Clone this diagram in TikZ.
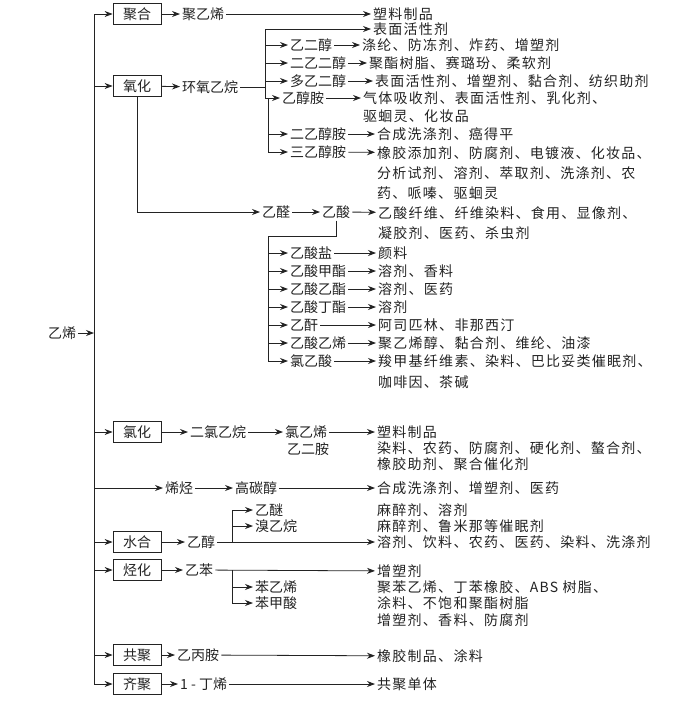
\documentclass[tikz,border=0pt]{standalone}
\usepackage{fontspec}
\usepackage{tikz}
\usetikzlibrary{arrows.meta, positioning, calc}
\newfontfamily\cjk{Noto Sans CJK SC}
\newfontfamily\cjkancho[LetterSpace=9]{Noto Sans CJK SC}
\definecolor{trazo}{RGB}{35,35,35}
\tikzset{
  proceso/.style={rectangle, draw=trazo, line width=0.8pt, minimum width=48pt,
                  minimum height=21pt, inner sep=0pt, text=trazo,
                  font=\cjk\fontsize{14}{16}\selectfont},
  producto/.style={anchor=west, inner sep=2pt, text=trazo,
                   font=\cjk\fontsize{14}{16}\selectfont},
  uso/.style={anchor=west, inner sep=2pt, text=trazo,
              font=\cjkancho\fontsize{14}{16}\selectfont},
  flecha/.style={-{Stealth[length=8pt, width=6pt]}, line width=0.8pt, trazo},
  linea/.style={line width=0.8pt, trazo}
}
\begin{document}
\begin{tikzpicture}[x=1pt, y=-1pt]
    \useasboundingbox (0,0) rectangle (685,702);
    % tronco
    \node[producto] (etileno) at (46,333) {乙烯};
    \coordinate (tronco) at (94,333);
    \draw[flecha] (etileno) -- (tronco);
    \node[proceso] (b-jh) at (137,14)  {聚合};
    \node[proceso] (b-yh) at (137,86)  {氧化};
    \node[proceso] (b-lh) at (137,432) {氯化};
    \node[proceso] (b-sh) at (137,542) {水合};
    \node[proceso] (b-th) at (137,570) {烃化};
    \node[proceso] (b-gj) at (137,655) {共聚};
    \node[proceso] (b-qj) at (137,684) {齐聚};
    \node[producto] (olef) at (163,488) {烯烃};
    \foreach \rama in {b-jh, b-yh, b-lh, olef, b-sh, b-th, b-gj, b-qj}
      \draw[flecha] (tronco) |- (\rama);

    % polimerizacion
    \node[producto] (pe) at (180,14) {聚乙烯};
    \node[uso] (o-pe) at (371,14) {塑料制品};
    \draw[flecha] (b-jh) -- (pe);
    \draw[flecha] (pe) -- (o-pe);

    % oxidacion: oxido de etileno
    \node[producto] (eo)  at (180,87) {环氧乙烷};
    \coordinate (c-eo) at (265,87);
    \draw[flecha] (b-yh) -- (eo);
    \draw[linea] (eo) -- (c-eo);
    \node[uso] (bmhx) at (371,29) {表面活性剂};
    \node[producto] (eg)  at (288,45) {乙二醇};
    \node[producto] (deg) at (288,63) {二乙二醇};
    \node[producto] (peg) at (288,81) {多乙二醇};
    \node[producto] (mea) at (280,98) {乙醇胺};
    \foreach \hijo in {bmhx, eg, deg, peg, mea}
      \draw[flecha] (c-eo) |- (\hijo);
    \coordinate (c-mea) at (268,98);
    \node[producto] (dea) at (288,134) {二乙醇胺};
    \node[producto] (tea) at (288,152) {三乙醇胺};
    \draw[flecha] (c-mea) |- (dea);
    \draw[flecha] (c-mea) |- (tea);
    \node[uso] (o-eg)   at (360,45)  {涤纶、防冻剂、炸药、增塑剂};
    \node[uso] (o-deg)  at (367,63)  {聚酯树脂、赛璐玢、柔软剂};
    \node[uso] (o-peg)  at (373,81)  {表面活性剂、增塑剂、黏合剂、纺织助剂};
    \node[uso] (o-mea)  at (361,98)  {气体吸收剂、表面活性剂、乳化剂、};
    \node[uso] (o-mea2) at (361,116) {驱蛔灵、化妆品};
    \node[uso] (o-dea)  at (375,134) {合成洗涤剂、癌得平};
    \node[uso] (o-tea)  at (375,153) {橡胶添加剂、防腐剂、电镀液、化妆品、};
    \node[uso] (o-tea2) at (375,173) {分析试剂、溶剂、萃取剂、洗涤剂、农};
    \node[uso] (o-tea3) at (375,193) {药、哌嗪、驱蛔灵};
    \draw[flecha] (eg)  -- (o-eg);
    \draw[flecha] (deg) -- (o-deg);
    \draw[flecha] (peg) -- (o-peg);
    \draw[flecha] (mea) -- (o-mea);
    \draw[flecha] (dea) -- (o-dea);
    \draw[flecha] (tea) -- (o-tea);

    % oxidacion: acetaldehido y acido acetico
    \node[producto] (ald) at (260,212) {乙醛};
    \node[producto] (aa)  at (320,212) {乙酸};
    \node[uso] (o-aa)  at (376,213) {乙酸纤维、纤维染料、食用、显像剂、};
    \node[uso] (o-aa2) at (376,233) {凝胶剂、医药、杀虫剂};
    \draw[flecha] (b-yh.south) |- (ald);
    \draw[flecha] (ald) -- (aa);
    \draw[flecha] (aa) -- (o-aa);
    \coordinate (c-aa) at (268,236);
    \draw[linea] (aa.south) |- (c-aa);
    \node[producto] (ac-salt) at (288,253) {乙酸盐};
    \node[producto] (ac-me)   at (288,271) {乙酸甲酯};
    \node[producto] (ac-et)   at (288,289) {乙酸乙酯};
    \node[producto] (ac-bu)   at (288,307) {乙酸丁酯};
    \node[producto] (ac-anh)  at (288,325) {乙酐};
    \node[producto] (ac-vin)  at (288,343) {乙酸乙烯};
    \node[producto] (ac-cl)   at (288,361) {氯乙酸};
    \node[uso] (o-salt) at (376,253) {颜料};
    \node[uso] (o-me)   at (376,271) {溶剂、香料};
    \node[uso] (o-et)   at (376,289) {溶剂、医药};
    \node[uso] (o-bu)   at (376,307) {溶剂};
    \node[uso] (o-anh)  at (376,325) {阿司匹林、非那西汀};
    \node[uso] (o-vin)  at (376,343) {聚乙烯醇、黏合剂、维纶、油漆};
    \node[uso] (o-cl)   at (376,361) {羧甲基纤维素、染料、巴比妥类催眠剂、};
    \node[uso] (o-cl2)  at (376,382) {咖啡因、茶碱};
    \foreach \der/\fin in {ac-salt/o-salt, ac-me/o-me, ac-et/o-et, ac-bu/o-bu,
                           ac-anh/o-anh, ac-vin/o-vin, ac-cl/o-cl} {
      \draw[flecha] (c-aa) |- (\der);
      \draw[flecha] (\der) -- (\fin);
    }

    % cloracion
    \node[producto] (edc) at (188,432) {二氯乙烷};
    \node[producto] (vcm) at (283,432) {氯乙烯};
    \node[producto] (eda) at (285,449) {乙二胺};
    \node[uso] (o-vcm)  at (375,432) {塑料制品};
    \node[uso] (o-eda)  at (375,448) {染料、农药、防腐剂、硬化剂、螯合剂、};
    \node[uso] (o-eda2) at (375,464) {橡胶助剂、聚合催化剂};
    \draw[flecha] (b-lh) -- (edc);
    \draw[flecha] (edc) -- (vcm);
    \draw[flecha] (vcm) -- (o-vcm);

    % olefinas
    \node[producto] (hoh) at (233,488) {高碳醇};
    \node[uso] (o-hoh) at (375,488) {合成洗涤剂、增塑剂、医药};
    \draw[flecha] (olef) -- (hoh);
    \draw[flecha] (hoh) -- (o-hoh);

    % hidratacion
    \node[producto] (etoh)  at (185,542) {乙醇};
    \node[producto] (ether) at (253,510) {乙醚};
    \node[producto] (ebr)   at (253,526) {溴乙烷};
    \node[uso] (o-ether) at (375,510) {麻醉剂、溶剂};
    \node[uso] (o-ebr)   at (375,526) {麻醉剂、鲁米那等催眠剂};
    \node[uso] (o-etoh)  at (375,542) {溶剂、饮料、农药、医药、染料、洗涤剂};
    \coordinate (c-etoh) at (232,542);
    \draw[flecha] (b-sh) -- (etoh);
    \draw[flecha] (etoh) -- (o-etoh);
    \draw[flecha] (c-etoh) |- (ether);
    \draw[flecha] (c-etoh) |- (ebr);

    % alquilacion
    \node[producto] (eb)  at (183,570) {乙苯};
    \node[producto] (sty) at (253,587) {苯乙烯};
    \node[producto] (bza) at (253,603) {苯甲酸};
    \node[uso] (o-eb)   at (375,571) {增塑剂};
    \node[uso] (o-sty)  at (375,587) {聚苯乙烯、丁苯橡胶、ABS 树脂、};
    \node[uso] (o-bza)  at (375,603) {涂料、不饱和聚酯树脂};
    \node[uso] (o-bza2) at (375,620) {增塑剂、香料、防腐剂};
    \coordinate (c-eb) at (232,570);
    \draw[flecha] (b-th) -- (eb);
    \draw[flecha] (eb) -- (o-eb);
    \draw[flecha] (c-eb) |- (sty);
    \draw[flecha] (c-eb) |- (bza);

    % copolimerizacion y oligomerizacion
    \node[producto] (epr) at (175,655) {乙丙胺};
    \node[uso] (o-epr) at (375,656) {橡胶制品、涂料};
    \node[producto] (but) at (178,684) {1 - 丁烯};
    \node[uso] (o-but) at (375,684) {共聚单体};
    \draw[flecha] (b-gj) -- (epr);
    \draw[flecha] (epr) -- (o-epr);
    \draw[flecha] (b-qj) -- (but);
    \draw[flecha] (but) -- (o-but);
\end{tikzpicture}
\end{document}
